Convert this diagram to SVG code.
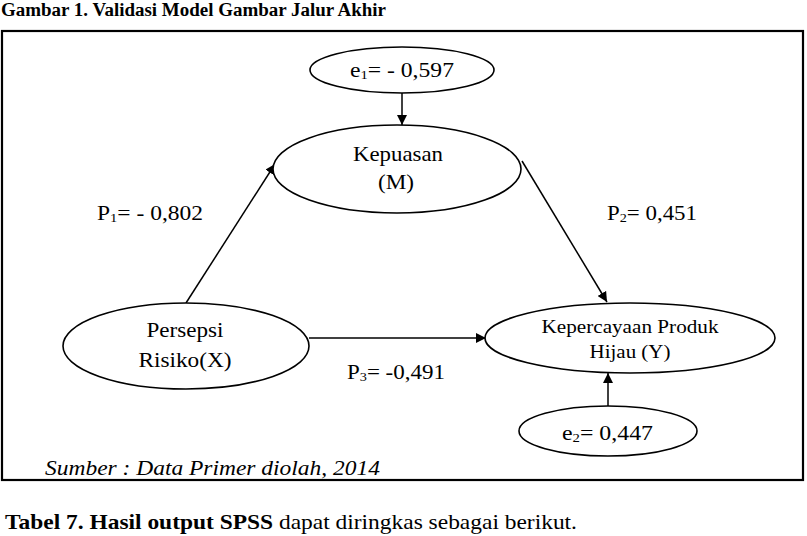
<svg xmlns="http://www.w3.org/2000/svg" width="807" height="536" viewBox="0 0 807 536">
<defs>
<style>
text{font-family:"Liberation Serif","Times New Roman",serif;fill:#000;}
.n{font-size:21px;text-anchor:middle;}
.e{fill:#fff;stroke:#000;stroke-width:1.6;}
.c{stroke:#000;stroke-width:1.5;fill:none;}
</style>
<marker id="ah" viewBox="0 0 10 10" refX="10" refY="5" markerWidth="10" markerHeight="10" markerUnits="userSpaceOnUse" orient="auto">
<path d="M0,0 L10,5 L0,10 Z" fill="#000"/>
</marker>
</defs>
<rect width="807" height="536" fill="#fff"/>
<text x="1" y="16" font-family="Liberation Serif, serif" font-size="18.5" font-weight="bold" textLength="385" lengthAdjust="spacingAndGlyphs">Gambar 1. Validasi Model Gambar Jalur Akhir</text>
<rect x="2" y="31" width="801" height="449" fill="none" stroke="#000" stroke-width="2.2"/>
<g id="connectors">
<line class="c" x1="402" y1="93" x2="402" y2="125" marker-end="url(#ah)"/>
<line class="c" x1="186" y1="303" x2="275" y2="164" marker-end="url(#ah)"/>
<line class="c" x1="522" y1="161" x2="607" y2="302" stroke-width="1" marker-end="url(#ah)"/>
<line class="c" x1="309" y1="338" x2="486" y2="338" marker-end="url(#ah)"/>
<line class="c" x1="608" y1="406" x2="608" y2="373" marker-end="url(#ah)"/>
</g>
<g id="e1">
<ellipse class="e" cx="402" cy="70" rx="92" ry="23"/>
<text x="350" y="77" font-family="Liberation Serif, serif" font-size="21" textLength="104" lengthAdjust="spacingAndGlyphs">e<tspan font-size="13" dy="2">1</tspan><tspan dy="-2">= - 0,597</tspan></text>
</g>
<g id="kepuasan">
<ellipse class="e" cx="397" cy="169" rx="124" ry="44"/>
<text class="n" x="398" y="161" font-family="Liberation Serif, serif" textLength="90" lengthAdjust="spacingAndGlyphs">Kepuasan</text>
<text class="n" x="396" y="189" font-family="Liberation Serif, serif" textLength="36" lengthAdjust="spacingAndGlyphs">(M)</text>
</g>
<g id="persepsi">
<ellipse class="e" cx="186" cy="346" rx="123" ry="43"/>
<text class="n" x="185" y="337" font-family="Liberation Serif, serif" textLength="77" lengthAdjust="spacingAndGlyphs">Persepsi</text>
<text class="n" x="185" y="367" font-family="Liberation Serif, serif" textLength="93" lengthAdjust="spacingAndGlyphs">Risiko(X)</text>
</g>
<g id="kepercayaan">
<ellipse class="e" cx="630" cy="338" rx="145" ry="35"/>
<text x="630" y="333" font-family="Liberation Serif, serif" font-size="19" text-anchor="middle" textLength="177" lengthAdjust="spacingAndGlyphs">Kepercayaan Produk</text>
<text x="630" y="358" font-family="Liberation Serif, serif" font-size="19" text-anchor="middle" textLength="81" lengthAdjust="spacingAndGlyphs">Hijau (Y)</text>
</g>
<g id="e2">
<ellipse class="e" cx="608" cy="431" rx="89" ry="25"/>
<text x="562" y="440" font-family="Liberation Serif, serif" font-size="21" textLength="91" lengthAdjust="spacingAndGlyphs">e<tspan font-size="13" dy="2">2</tspan><tspan dy="-2">= 0,447</tspan></text>
</g>
<g id="labels">
<text x="97" y="220" font-family="Liberation Serif, serif" font-size="21" textLength="106" lengthAdjust="spacingAndGlyphs">P<tspan font-size="13" dy="2">1</tspan><tspan dy="-2">= - 0,802</tspan></text>
<text x="607" y="220" font-family="Liberation Serif, serif" font-size="21" textLength="90" lengthAdjust="spacingAndGlyphs">P<tspan font-size="13" dy="2">2</tspan><tspan dy="-2">= 0,451</tspan></text>
<text x="347" y="379" font-family="Liberation Serif, serif" font-size="21" textLength="98" lengthAdjust="spacingAndGlyphs">P<tspan font-size="13" dy="2">3</tspan><tspan dy="-2">= -0,491</tspan></text>
</g>
<text x="45" y="475" font-family="Liberation Serif, serif" font-size="21" font-style="italic" textLength="335" lengthAdjust="spacingAndGlyphs">Sumber : Data Primer diolah, 2014</text>
<text x="5" y="529" font-family="Liberation Serif, serif" font-size="21" textLength="572" lengthAdjust="spacingAndGlyphs"><tspan font-weight="bold">Tabel 7. Hasil output SPSS</tspan> dapat diringkas sebagai berikut.</text>
</svg>
